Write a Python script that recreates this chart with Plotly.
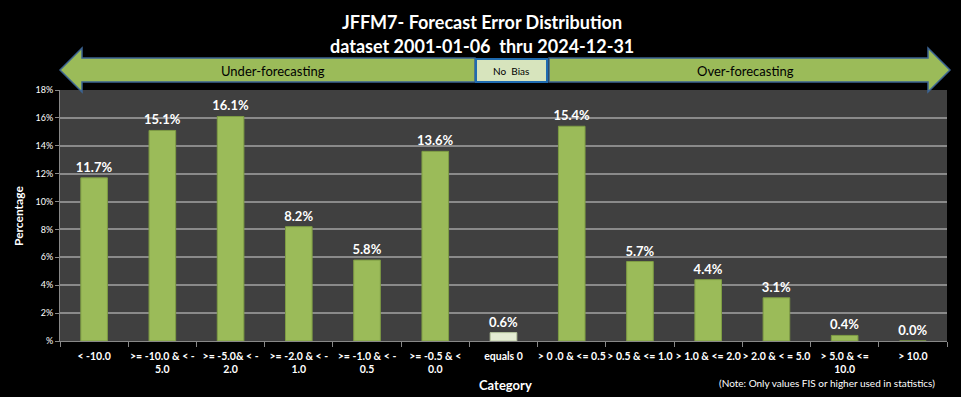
import plotly.graph_objects as go

categories = [
    "< -10.0",
    ">= -10.0 & < -<br>5.0",
    ">= -5.0& < -<br>2.0",
    ">= -2.0 & < -<br>1.0",
    ">= -1.0 & < -<br>0.5",
    ">= -0.5 & <<br>0.0",
    "equals 0",
    "> 0 .0 & <= 0.5",
    "> 0.5 & <= 1.0",
    "> 1.0 & <= 2.0",
    "> 2.0 & < = 5.0",
    "> 5.0 & <=<br>10.0",
    "> 10.0",
]
percentages = [11.7, 15.1, 16.1, 8.2, 5.8, 13.6, 0.6, 15.4, 5.7, 4.4, 3.1, 0.4, 0.0]
y_tick_vals = [0, 2, 4, 6, 8, 10, 12, 14, 16, 18]
y_tick_text = ["%", "2%", "4%", "6%", "8%", "10%", "12%", "14%", "16%", "18%"]

W, H = 961, 397
L, R, T, B = 60, 947, 90, 341

FONT = "Lato"
GREEN = "#9BBB59"
LIGHT = "#E4ECD3"

bar_colors = [LIGHT if c == "equals 0" else GREEN for c in categories]
edge_colors = ["#B9C7A0" if c == "equals 0" else "#7E9C44" for c in categories]

fig = go.Figure()
fig.add_trace(go.Bar(
    x=categories,
    y=percentages,
    marker=dict(color=bar_colors, line=dict(color=edge_colors, width=1)),
    width=0.39,
    text=[f"{v:.1f}%" for v in percentages],
    textposition="outside",
    constraintext="none",
    textfont=dict(family=FONT, size=13, color="white", weight="bold"),
    cliponaxis=False,
    hoverinfo="x+y",
))


def px(x):
    return (x - L) / (R - L)


def py(y):
    return (B - y) / (B - T)


def path(points):
    return "M " + " L ".join(f"{px(x):.5f},{py(y):.5f}" for x, y in points) + " Z"


left_arrow = [(60, 70), (82, 48), (82, 58), (475, 58), (475, 82), (82, 82), (82, 92)]
right_arrow = [(549, 58), (928, 58), (928, 48), (950, 70), (928, 92), (928, 82), (549, 82)]

shapes = [
    dict(type="path", xref="paper", yref="paper", path=path(left_arrow),
         fillcolor=GREEN, line=dict(color="#3B6391", width=1.5), layer="above"),
    dict(type="path", xref="paper", yref="paper", path=path(right_arrow),
         fillcolor=GREEN, line=dict(color="#3B6391", width=1.5), layer="above"),
    dict(type="rect", xref="paper", yref="paper", x0=px(476), x1=px(547), y0=py(82), y1=py(59),
         fillcolor="#D7E4BD", line=dict(color="#1F6BB0", width=2), layer="above"),
]


def ann(text, x, y, size, color="white", xanchor="center", angle=0):
    return dict(text=text, xref="paper", yref="paper", x=px(x), y=py(y),
                xanchor=xanchor, yanchor="middle", textangle=angle, showarrow=False,
                font=dict(family=FONT, size=size, color=color))


annotations = [
    ann("<b>JFFM7- Forecast Error Distribution</b>", 482, 22, 18),
    ann("<b>dataset 2001-01-06  thru 2024-12-31</b>", 482, 46, 18),
    ann("Under-forecasting", 273, 71, 13, "black"),
    ann("No  Bias", 511, 71, 10, "black"),
    ann("Over-forecasting", 745, 71, 13, "black"),
    ann("<b>Category</b>", 505, 385, 13),
    ann("<b>Percentage</b>", 18, 216, 12, angle=-90),
    ann("(Note: Only values FIS or higher used in statistics)", 937, 383, 10, xanchor="right"),
]

fig.update_layout(
    width=W, height=H,
    margin=dict(l=L, r=W - R, t=T, b=H - B, autoexpand=False),
    paper_bgcolor="black",
    plot_bgcolor="#404040",
    showlegend=False,
    shapes=shapes,
    annotations=annotations,
    font=dict(family=FONT, color="white"),
    xaxis=dict(
        type="category",
        automargin=False,
        tickfont=dict(family=FONT, size=10.5, color="white", weight="bold"),
        ticks="outside", tickson="boundaries", ticklen=5, tickcolor="#888888",
        ticklabelstandoff=5,
        showline=True, linecolor="#888888", linewidth=1,
        showgrid=False,
        tickangle=0,
    ),
    yaxis=dict(
        automargin=False,
        range=[0, 18],
        tickvals=y_tick_vals, ticktext=y_tick_text,
        tickfont=dict(family=FONT, size=9, color="white"),
        ticks="outside", ticklen=4, tickcolor="#888888",
        showline=True, linecolor="#888888", linewidth=1,
        showgrid=True, gridcolor="#8A8A8A", gridwidth=1.5,
        zeroline=False,
    ),
)

fig.write_html("out.html", config={"displayModeBar": False},
               post_script="document.body.style.margin='0';")
